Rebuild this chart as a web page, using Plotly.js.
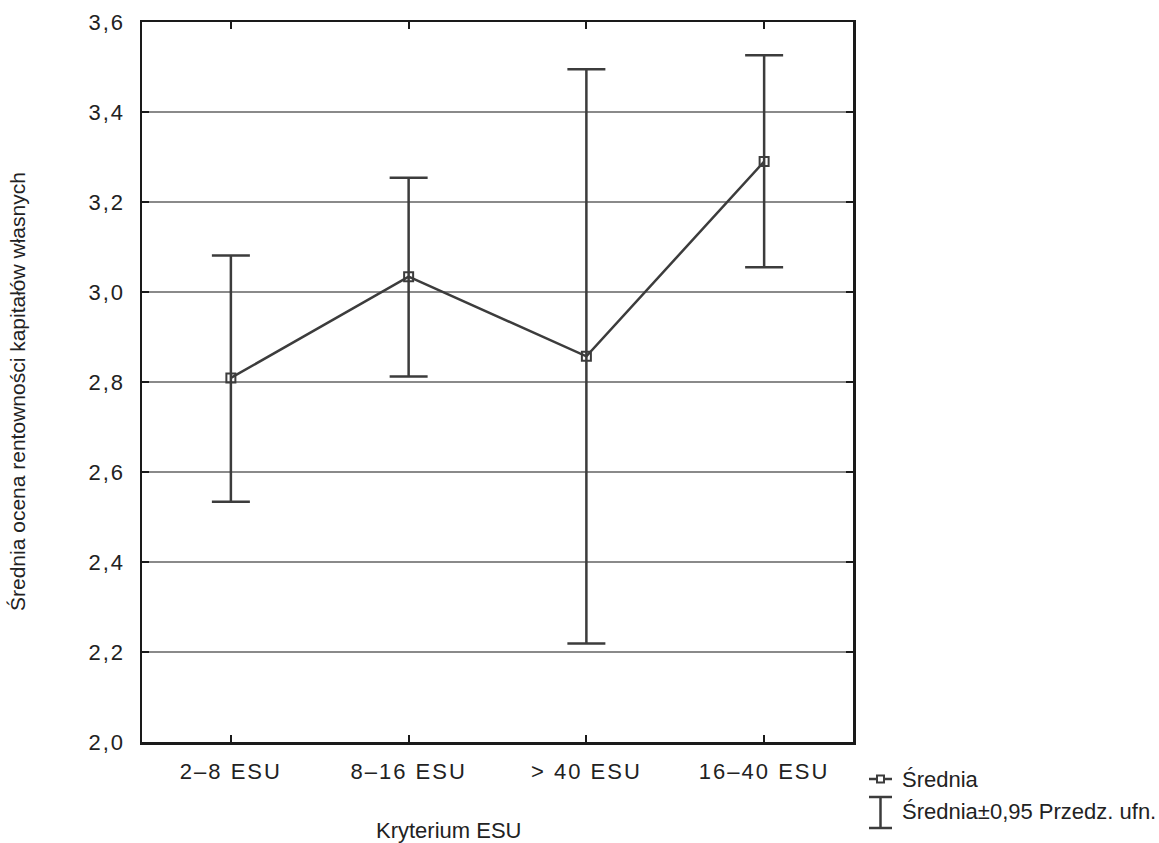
<!DOCTYPE html>
<html>
<head>
<meta charset="utf-8">
<script src="https://cdn.plot.ly/plotly-3.0.1.min.js"></script>
<style>
  html, body { margin: 0; padding: 0; background: #fff; }
  #chart { width: 1159px; height: 843px; }
  .xtick text, .ytick text { letter-spacing: 2px; }
</style>
</head>
<body>
<div id="chart"></div>
<script>
// ---- data ----
const categories = ["2–8 ESU", "8–16 ESU", "> 40 ESU", "16–40 ESU"];
const means = [2.809, 3.034, 2.857, 3.290];
const upper = [3.081, 3.254, 3.495, 3.526];
const lower = [2.534, 2.812, 2.219, 3.055];
const yTicks = [2.0, 2.2, 2.4, 2.6, 2.8, 3.0, 3.2, 3.4, 3.6];
const legendLabels = ["Średnia", "Średnia±0,95 Przedz. ufn."];
const xTitle = "Kryterium ESU";
const yTitle = "Średnia ocena rentowności kapitałów własnych";

const W = 1159, H = 843;
const M = {l: 142, r: 306, t: 22, b: 101};
const pw = W - M.l - M.r, ph = H - M.t - M.b;
const px = x => (x - M.l) / pw;          // page px -> paper x
const py = y => (H - M.b - y) / ph;      // page px -> paper y

const markColor = '#3c3c3c';
const axisColor = '#1a1a1a';
const tickFont = {family: 'Liberation Sans, Arial, sans-serif', size: 22, color: '#222'};

const trace = {
  type: 'scatter',
  mode: 'lines+markers',
  x: categories,
  y: means,
  line: {color: markColor, width: 2.5},
  marker: {symbol: 'square-open', size: 9, color: markColor, line: {width: 2, color: markColor}},
  error_y: {
    type: 'data', symmetric: false,
    array: upper.map((u, i) => u - means[i]),
    arrayminus: lower.map((l, i) => means[i] - l),
    color: markColor, thickness: 2.5, width: 19
  },
  showlegend: false,
  hoverinfo: 'skip'
};

// manual legend (symbols drawn in paper space)
const lx0 = 869, lx1 = 892, lxc = 880.5;
const row1 = 779, row2top = 797, row2bot = 828;
const shapes = [
  {type: 'line', xref: 'paper', yref: 'paper', x0: px(lx0), x1: px(lx1), y0: py(row1), y1: py(row1), line: {color: markColor, width: 2.5}},
  {type: 'rect', xref: 'paper', yref: 'paper', x0: px(lxc - 3.5), x1: px(lxc + 3.5), y0: py(row1 - 3.5), y1: py(row1 + 3.5), line: {color: markColor, width: 2}, fillcolor: '#fff'},
  {type: 'line', xref: 'paper', yref: 'paper', x0: px(lxc), x1: px(lxc), y0: py(row2top), y1: py(row2bot), line: {color: markColor, width: 2.5}},
  {type: 'line', xref: 'paper', yref: 'paper', x0: px(lx0), x1: px(lx1), y0: py(row2top), y1: py(row2top), line: {color: markColor, width: 2.5}},
  {type: 'line', xref: 'paper', yref: 'paper', x0: px(lx0), x1: px(lx1), y0: py(row2bot), y1: py(row2bot), line: {color: markColor, width: 2.5}}
];

const legendFont = {family: 'Liberation Sans, Arial, sans-serif', size: 22, color: '#222'};
const annotations = [
  {xref: 'paper', yref: 'paper', x: px(900), y: py(779), xanchor: 'left', yanchor: 'middle', text: legendLabels[0], showarrow: false, font: legendFont},
  {xref: 'paper', yref: 'paper', x: px(900), y: py(811), xanchor: 'left', yanchor: 'middle', text: legendLabels[1], showarrow: false, font: legendFont},
  {xref: 'paper', yref: 'paper', x: px(448), y: py(830), xanchor: 'center', yanchor: 'middle', text: xTitle, showarrow: false,
   font: {family: 'Liberation Sans Narrow, Arial Narrow, sans-serif', size: 22, color: '#222'}},
  {xref: 'paper', yref: 'paper', x: px(18), y: py(392), xanchor: 'center', yanchor: 'middle', textangle: -90, text: yTitle, showarrow: false,
   font: {family: 'Liberation Sans Narrow, Arial Narrow, sans-serif', size: 21, color: '#222'}}
];

const layout = {
  width: W, height: H,
  margin: M,
  paper_bgcolor: '#fff', plot_bgcolor: '#fff',
  separators: ', ',
  showlegend: false,
  xaxis: {
    type: 'category', range: [-0.5, 3.5],
    showline: true, linecolor: axisColor, linewidth: 2.5, mirror: 'ticks',
    ticks: 'inside', ticklen: 7, tickwidth: 2, tickcolor: axisColor,
    showgrid: false, zeroline: false,
    tickfont: tickFont, ticklabelstandoff: 8
  },
  yaxis: {
    range: [2.0, 3.6], tickvals: yTicks, tickformat: '.1f',
    showline: true, linecolor: axisColor, linewidth: 2.5, mirror: 'ticks',
    ticks: 'inside', ticklen: 7, tickwidth: 2, tickcolor: axisColor,
    showgrid: true, gridcolor: '#8a8a8a', gridwidth: 1.2, zeroline: false,
    tickfont: tickFont, ticklabelstandoff: 10
  },
  shapes: shapes,
  annotations: annotations
};

Plotly.newPlot('chart', [trace], layout, {displayModeBar: false, staticPlot: true});
</script>
</body>
</html>
